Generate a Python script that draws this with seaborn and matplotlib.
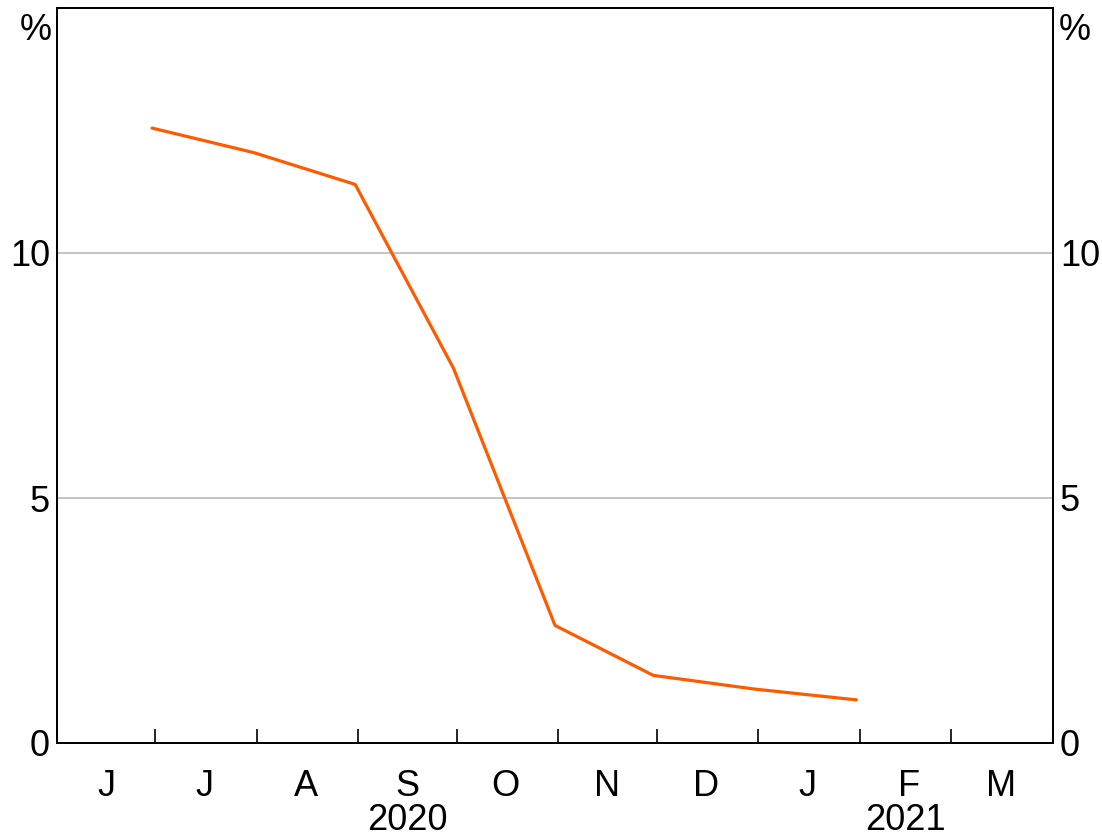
import pandas as pd
import matplotlib
matplotlib.use("Agg")
import matplotlib.pyplot as plt
import matplotlib.dates as mdates
import matplotlib.transforms as mtransforms
import seaborn as sns

# Month-end observations (%)
dates = ["2020-06-30", "2020-07-31", "2020-08-31", "2020-09-30",
         "2020-10-31", "2020-11-30", "2020-12-31", "2021-01-31"]
values = [12.55, 12.05, 11.4, 7.65, 2.4, 1.38, 1.1, 0.88]
month_labels = ["J", "J", "A", "S", "O", "N", "D", "J", "F", "M"]
years = ["2020", "2021"]
yticks = [0, 5, 10]

df = pd.DataFrame({"date": pd.to_datetime(dates), "value": values})

sns.set_style("white")
plt.rcParams["font.family"] = ["Liberation Sans", "DejaVu Sans"]
plt.rcParams["text.color"] = "black"
plt.rcParams["xtick.color"] = "black"
plt.rcParams["ytick.color"] = "black"
FS = 26

fig = plt.figure(figsize=(11.02, 8.4), dpi=100)
ax = fig.add_axes([57 / 1102, 1 - 743 / 840, 996 / 1102, 735 / 840])

sns.lineplot(data=df, x="date", y="value", ax=ax, color="#ff5a00", linewidth=2.3)

x0, x1 = pd.Timestamp("2020-06-01"), pd.Timestamp("2021-04-01")

for y in [5, 10]:
    ax.axhline(y, color="#b3b3b3", linewidth=1.1, zorder=0)

# month boundary ticks, labels at mid-month
ax.xaxis.set_major_locator(mdates.MonthLocator())
ax.xaxis.set_major_formatter(plt.NullFormatter())
mids = pd.date_range("2020-06-01", periods=len(month_labels), freq="MS") + pd.Timedelta(days=15)
ax.set_xticks(mdates.date2num(mids), minor=True)
ax.set_xticklabels(month_labels, minor=True)
ax.tick_params(axis="x", which="major", bottom=True, direction="in", length=10, width=1.2, color="black")
ax.tick_params(axis="x", which="minor", bottom=True, length=0, labelsize=FS, pad=19)
ax.set_xlabel("")
ax.set_ylabel("")

ax.set_yticks(yticks)
ax.tick_params(axis="y", length=0, labelsize=FS, pad=5)
ax.set_xlim(x0, x1)
ax.set_ylim(0, 15)

ax2 = ax.twinx()
ax2.set_ylim(0, 15)
ax2.set_yticks(yticks)
ax2.tick_params(axis="y", length=0, labelsize=FS, pad=5)

for a in (ax, ax2):
    for s in a.spines.values():
        s.set_visible(True)
        s.set_color("black")
        s.set_linewidth(1.3)

ax.text(-0.021, 0.97, "%", transform=ax.transAxes, ha="center", va="center", fontsize=FS)
ax.text(1.022, 0.97, "%", transform=ax.transAxes, ha="center", va="center", fontsize=FS)

# year labels centred under their months
trans = mtransforms.blended_transform_factory(ax.transData, ax.transAxes)
year_spans = [(x0, pd.Timestamp("2021-01-01")), (pd.Timestamp("2021-01-01"), x1)]
for label, (a, b) in zip(years, year_spans):
    mid = a + (b - a) / 2
    ax.text(mdates.date2num(mid), -0.106, label, transform=trans,
            ha="center", va="center", fontsize=FS)

fig.savefig("out.png", dpi=100)
